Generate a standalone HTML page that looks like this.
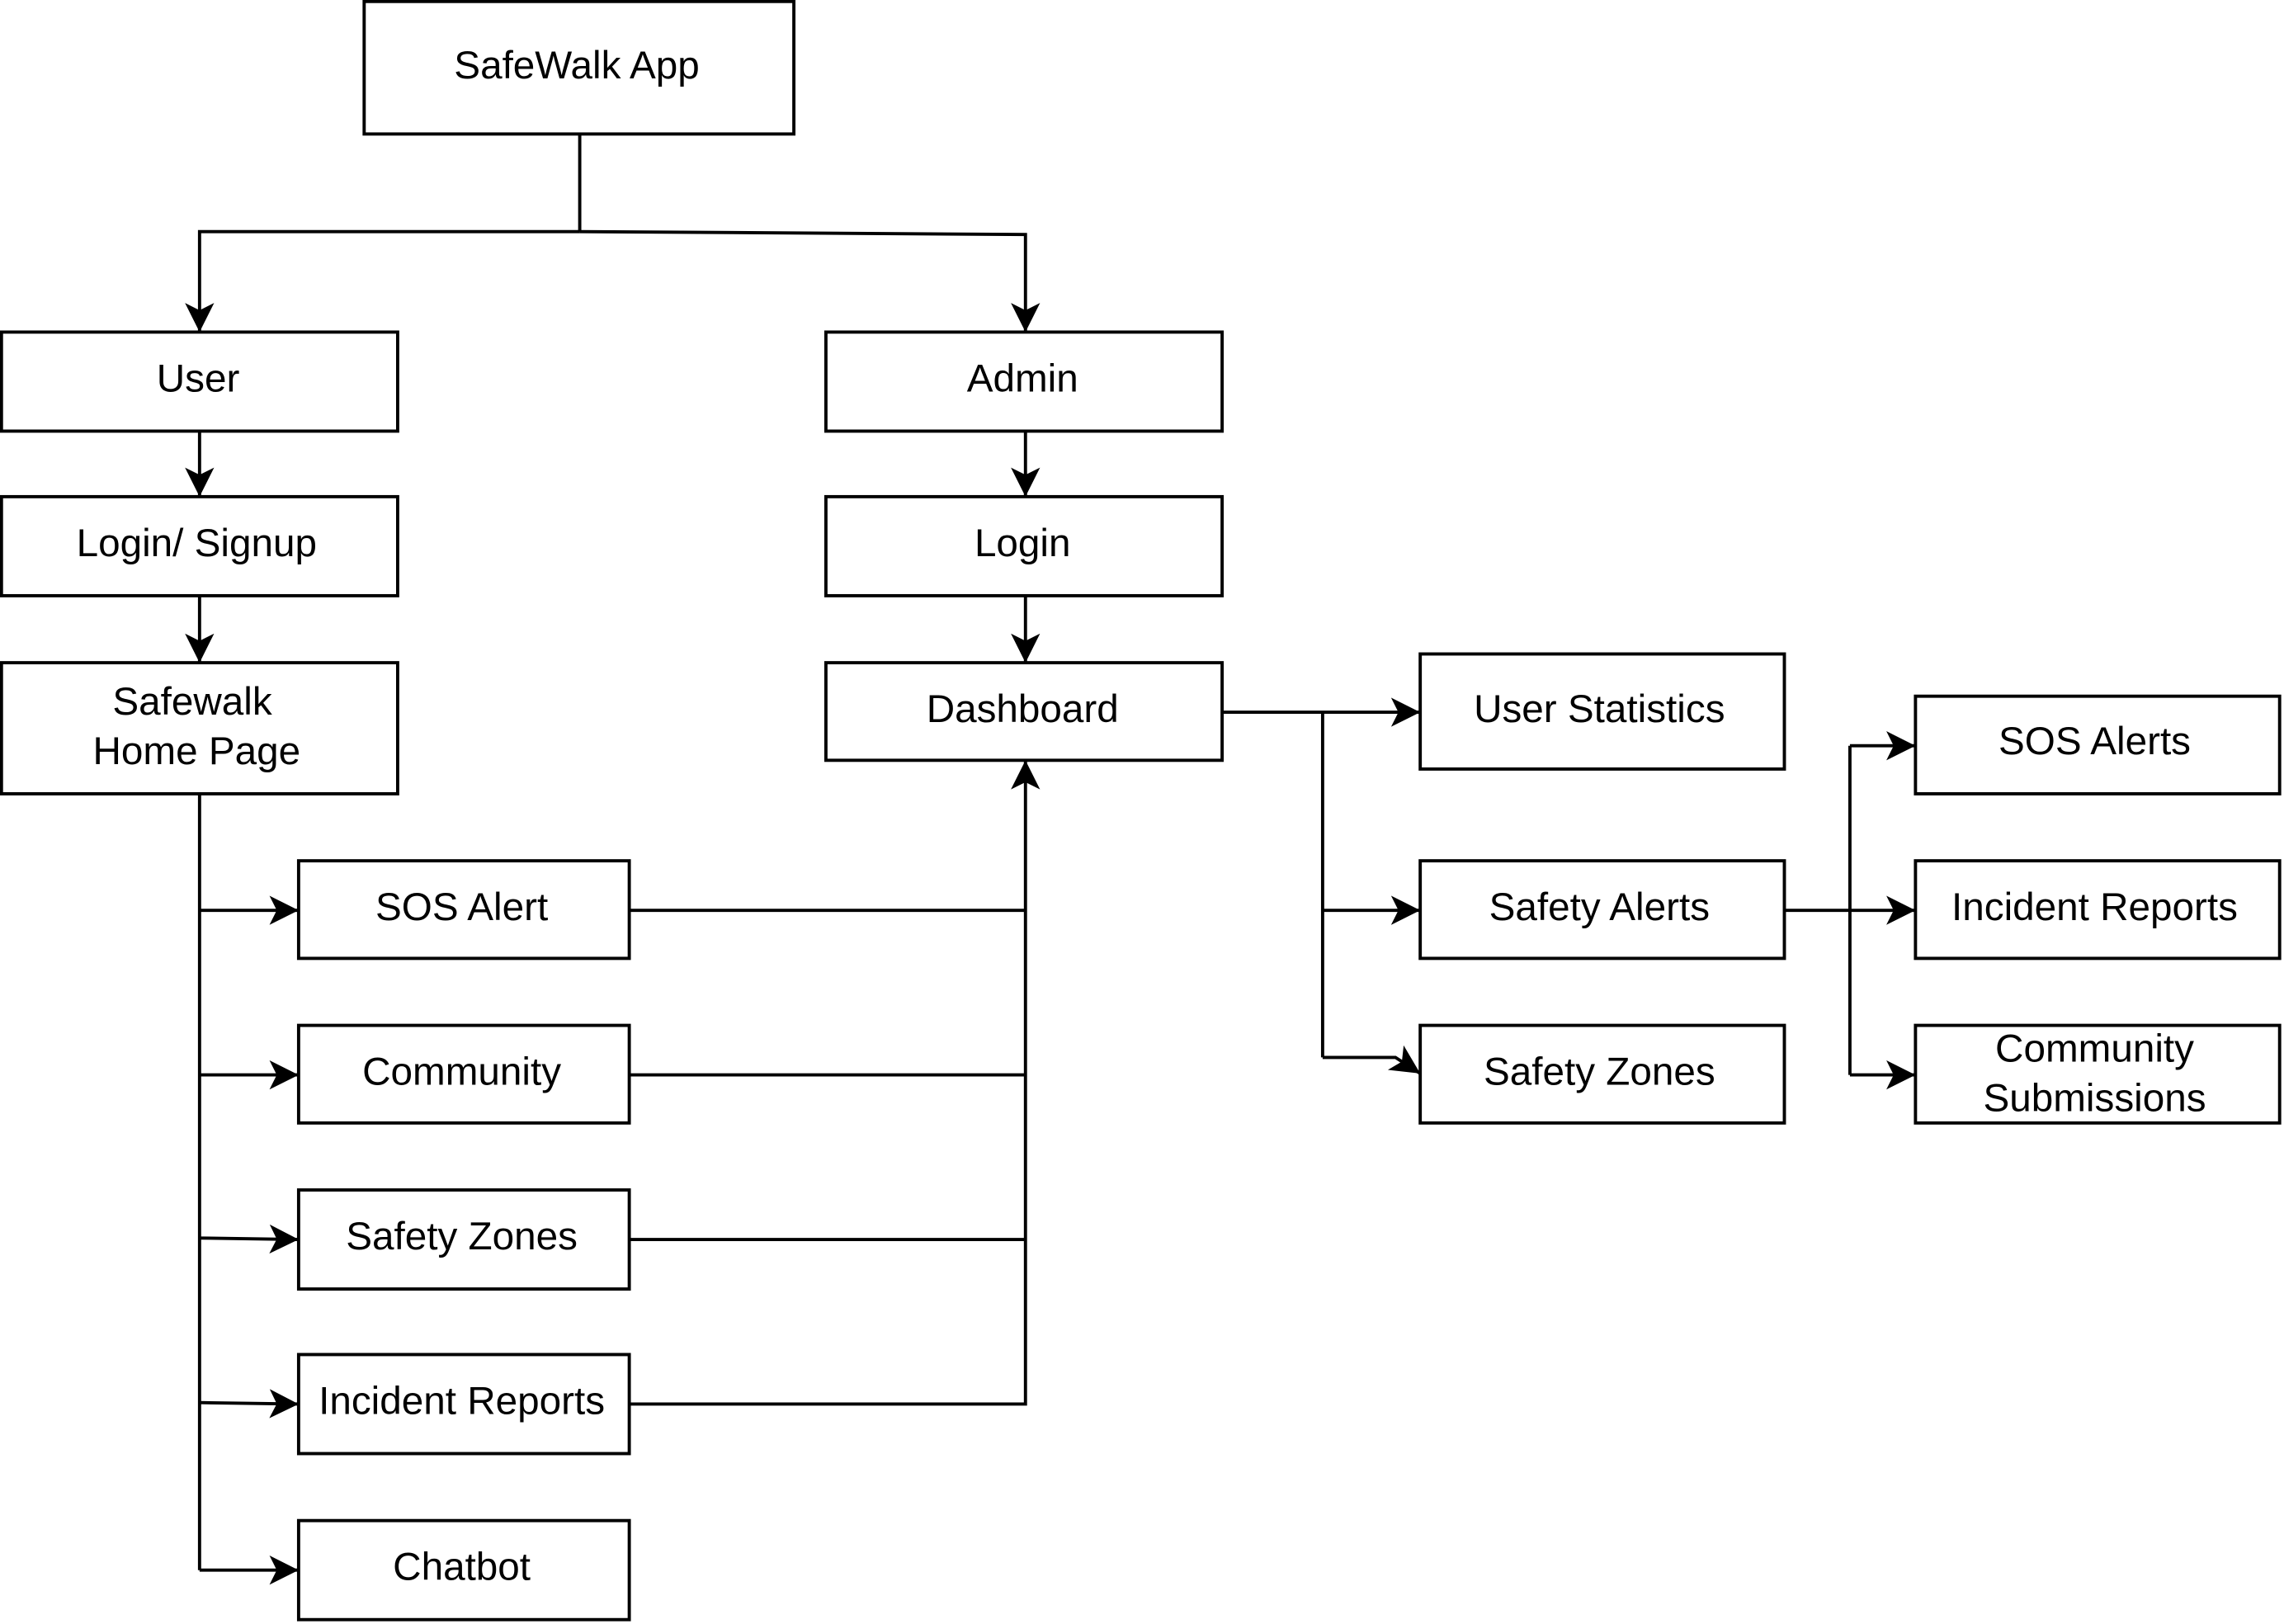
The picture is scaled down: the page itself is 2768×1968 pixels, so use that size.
<!DOCTYPE html>
<html><head><meta charset="utf-8"><style>
html,body{margin:0;padding:0;background:#fff;}
svg{display:block;}
text{font-family:"Liberation Sans",Arial,sans-serif;font-size:27px;fill:#000;text-anchor:middle;dominant-baseline:central;}
rect{fill:#fff;stroke:#000;stroke-width:2.2;}
.l{fill:none;stroke:#000;stroke-width:2.2;}
</style></head><body>
<svg width="2768" height="1968" viewBox="0 0 1568 1115" preserveAspectRatio="none" xmlns="http://www.w3.org/2000/svg">
<defs>
<marker id="a" markerUnits="userSpaceOnUse" markerWidth="24" markerHeight="24" refX="20" refY="10" orient="auto">
<path d="M0,0 L20,10 L0,20 L5,10 Z" fill="#000"/>
</marker>
</defs>
<path class="l" d="M398,92 V159"/>
<path class="l" d="M398,159 H137 V228" marker-end="url(#a)"/>
<path class="l" d="M398,159 L704,161 V228" marker-end="url(#a)"/>
<path class="l" d="M137,296 V341" marker-end="url(#a)"/>
<path class="l" d="M137,409 V455" marker-end="url(#a)"/>
<path class="l" d="M704,296 V341" marker-end="url(#a)"/>
<path class="l" d="M704,409 V455" marker-end="url(#a)"/>
<path class="l" d="M137,545 V1078"/>
<path class="l" d="M137,625 H205" marker-end="url(#a)"/>
<path class="l" d="M137,738 H205" marker-end="url(#a)"/>
<path class="l" d="M137,850 L205,851" marker-end="url(#a)"/>
<path class="l" d="M137,963 L205,964" marker-end="url(#a)"/>
<path class="l" d="M137,1078 H205" marker-end="url(#a)"/>
<path class="l" d="M432,625 H704"/>
<path class="l" d="M432,738 H704"/>
<path class="l" d="M432,851 H704"/>
<path class="l" d="M432,964 H704 V522" marker-end="url(#a)"/>
<path class="l" d="M839,489 H975" marker-end="url(#a)"/>
<path class="l" d="M908,489 V726"/>
<path class="l" d="M908,625 H975" marker-end="url(#a)"/>
<path class="l" d="M908,726 H958 L975,737" marker-end="url(#a)"/>
<path class="l" d="M1225,625 H1315" marker-end="url(#a)"/>
<path class="l" d="M1270,512 V738"/>
<path class="l" d="M1270,512 H1315" marker-end="url(#a)"/>
<path class="l" d="M1270,738 H1315" marker-end="url(#a)"/>
<rect x="250" y="1" width="295" height="91"/><text x="396" y="45">SafeWalk App</text>
<rect x="1" y="228" width="272" height="68"/><text x="136" y="260">User</text>
<rect x="567" y="228" width="272" height="68"/><text x="702" y="260">Admin</text>
<rect x="1" y="341" width="272" height="68"/><text x="135" y="373">Login/ Signup</text>
<rect x="567" y="341" width="272" height="68"/><text x="702" y="373">Login</text>
<rect x="1" y="455" width="272" height="90"/><text x="132" y="482">Safewalk</text><text x="135" y="516">Home Page</text>
<rect x="567" y="455" width="272" height="67"/><text x="702" y="487">Dashboard</text>
<rect x="205" y="591" width="227" height="67"/><text x="317" y="623">SOS Alert</text>
<rect x="205" y="704" width="227" height="67"/><text x="317" y="736">Community</text>
<rect x="205" y="817" width="227" height="68"/><text x="317" y="849">Safety Zones</text>
<rect x="205" y="930" width="227" height="68"/><text x="317" y="962">Incident Reports</text>
<rect x="205" y="1044" width="227" height="68"/><text x="317" y="1076">Chatbot</text>
<rect x="975" y="449" width="250" height="79"/><text x="1098" y="487">User Statistics</text>
<rect x="975" y="591" width="250" height="67"/><text x="1098" y="623">Safety Alerts</text>
<rect x="975" y="704" width="250" height="67"/><text x="1098" y="736">Safety Zones</text>
<rect x="1315" y="478" width="250" height="67"/><text x="1438" y="509">SOS Alerts</text>
<rect x="1315" y="591" width="250" height="67"/><text x="1438" y="623">Incident Reports</text>
<rect x="1315" y="704" width="250" height="67"/><text x="1438" y="720">Community</text><text x="1438" y="754">Submissions</text>
</svg>
</body></html>
